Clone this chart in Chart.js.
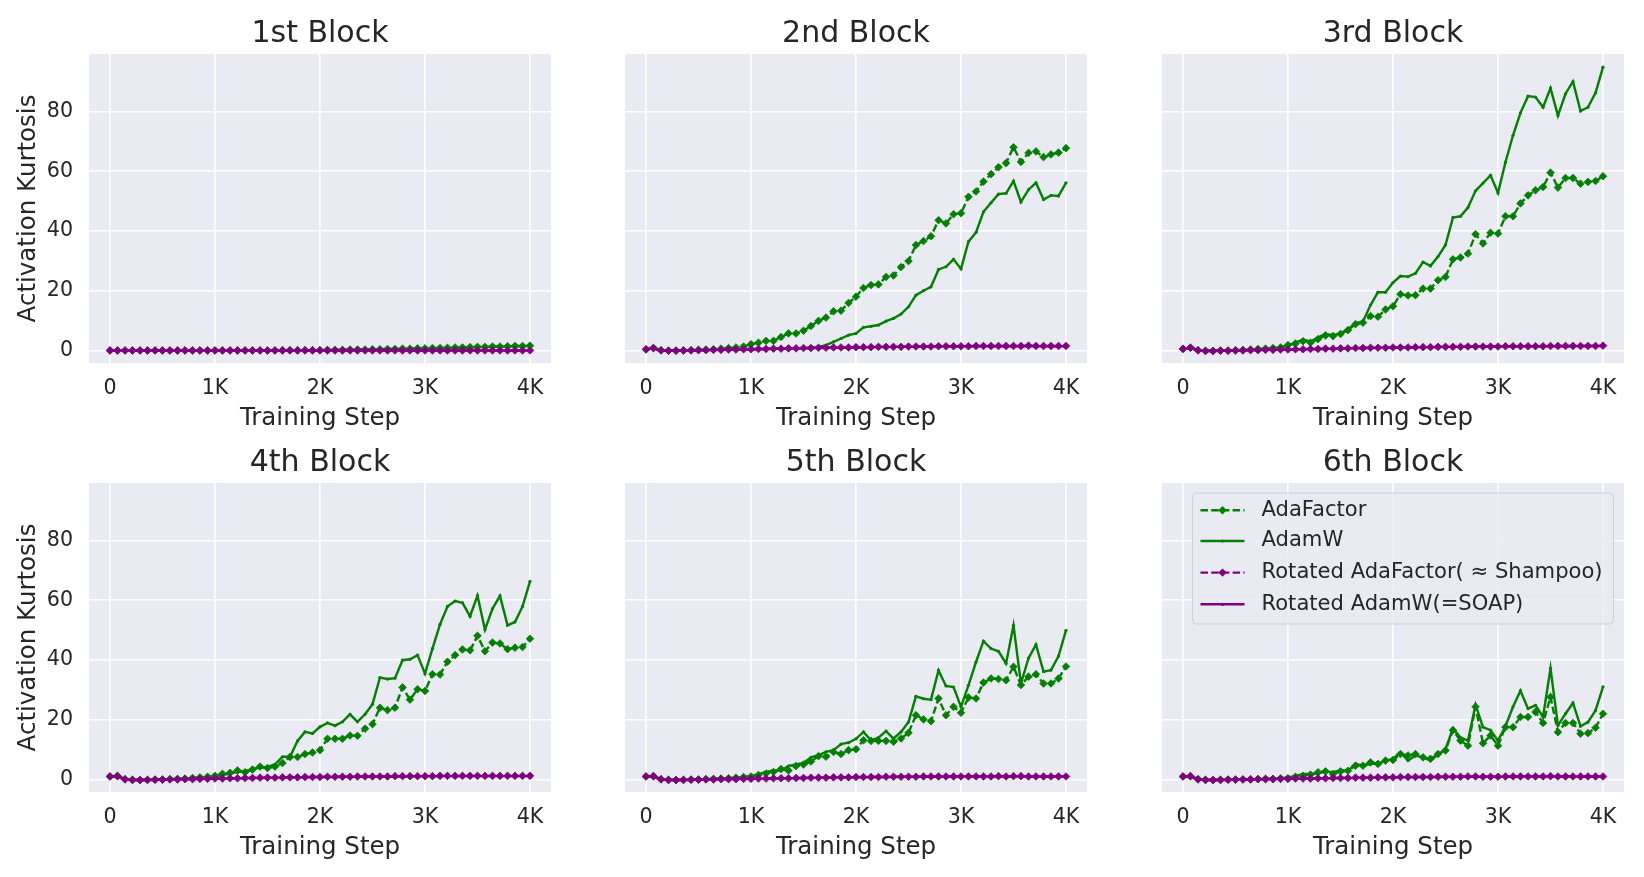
<!DOCTYPE html>
<html>
<head>
<meta charset="utf-8">
<script src="https://cdn.jsdelivr.net/npm/chart.js@4.4.1/dist/chart.umd.min.js"></script>
<style>
html, body { margin: 0; padding: 0; background: #fff; }
body { width: 1644px; height: 877px; position: relative; overflow: hidden; }
canvas { position: absolute; }
</style>
</head>
<body>
<script>
// training steps (57 logged points, 0 .. 4K)
var steps = [0, 71, 143, 214, 286, 357, 429, 500, 571, 643, 714, 786, 857, 929,
  1000, 1071, 1143, 1214, 1286, 1357, 1429, 1500, 1571, 1643, 1714, 1786, 1857, 1929,
  2000, 2071, 2143, 2214, 2286, 2357, 2429, 2500, 2571, 2643, 2714, 2786, 2857, 2929,
  3000, 3071, 3143, 3214, 3286, 3357, 3429, 3500, 3571, 3643, 3714, 3786, 3857, 3929, 4000];
var xTickVals = [0, 1000, 2000, 3000, 4000];
var xTickText = ['0', '1K', '2K', '3K', '4K'];
var yTickVals = [0, 20, 40, 60, 80];
var blockTitles = ['1st Block', '2nd Block', '3rd Block', '4th Block', '5th Block', '6th Block'];
var seriesNames = ['AdaFactor', 'AdamW', 'Rotated AdaFactor( \u2248 Shampoo)', 'Rotated AdamW(=SOAP)'];

// 1st block
var b1AdaFactor = [0.0,0.0,0.0,0.0,0.0,0.0,0.0,0.0,0.0,0.0,0.0,0.0,0.0,0.0,
  0.0,0.0,0.0,0.0,0.0,0.0,0.0,0.0,0.0,0.1,0.1,0.1,0.1,0.1,
  0.1,0.2,0.2,0.2,0.3,0.3,0.3,0.4,0.4,0.5,0.5,0.6,0.6,0.7,0.7,0.8,0.8,0.9,1.0,1.0,1.1,1.2,1.2,1.3,1.3,1.4,1.5,1.5,1.6];
var b1AdamW = [0.0,0.0,0.0,0.0,0.0,0.0,0.0,0.0,0.0,0.0,0.0,0.0,0.0,0.0,
  0.0,0.0,0.0,0.0,0.0,0.0,0.0,0.0,0.0,0.0,0.1,0.1,0.1,0.1,
  0.1,0.1,0.2,0.2,0.2,0.3,0.3,0.3,0.4,0.4,0.5,0.5,0.6,0.6,0.7,0.7,0.8,0.8,0.9,0.9,1.0,1.1,1.1,1.2,1.2,1.3,1.4,1.4,1.5];
var b1RotAdaFactor = [0.0,0.0,0.0,0.0,0.0,0.0,0.0,0.0,0.0,0.0,0.0,0.0,0.0,0.0,
  0.0,0.0,0.0,0.0,0.0,0.0,0.0,0.0,0.0,0.0,0.0,0.0,0.0,0.0,
  0.0,0.0,0.0,0.0,0.0,0.0,0.0,0.0,0.0,0.0,0.0,0.0,0.0,0.0,0.0,0.0,0.0,0.0,0.0,0.0,0.0,0.0,0.0,0.0,0.0,0.0,0.0,0.0,0.0];
var b1RotAdamW = [0.0,0.0,0.0,0.0,0.0,0.0,0.0,0.0,0.0,0.0,0.0,0.0,0.0,0.0,
  0.0,0.0,0.0,0.0,0.0,0.0,0.0,0.0,0.0,0.0,0.0,0.0,0.0,0.0,
  0.0,0.0,0.0,0.0,0.0,0.0,0.0,0.0,0.0,0.0,0.0,0.0,0.0,0.0,0.0,0.0,0.0,0.0,0.0,0.0,0.0,0.0,0.0,0.0,0.0,0.0,0.0,0.0,0.0];

// 2nd block
var b2AdaFactor = [0.3,0.8,0.1,-0.1,0.0,0.0,0.1,0.2,0.3,0.4,0.6,0.8,1.0,
  1.3,2.1,2.6,3.2,3.2,4.5,5.7,5.7,6.6,8.2,
  9.9,11.0,13.1,13.3,15.9,18.0,20.9,21.9,22.1,24.6,
  25.1,27.9,29.9,35.3,36.6,38.2,43.6,42.5,45.6,45.9,
  51.4,53.2,56.5,59.0,61.3,62.7,68.0,63.1,66.1,66.6,
  64.7,65.6,66.2,67.7];
var b2AdamW = [0.3,0.7,0.1,-0.1,0.0,0.0,0.0,0.1,0.1,0.2,
  0.2,0.3,0.3,0.4,0.4,0.5,0.5,0.6,0.6,0.7,
  0.7,0.8,0.9,
  1.2,1.8,2.9,4.0,5.1,5.7,7.7,8.1,8.5,9.8,
  10.7,12.2,14.6,18.5,20.0,21.3,27.1,28.0,30.5,27.3,
  36.4,39.5,46.4,49.4,52.3,52.6,56.7,49.7,53.8,56.1,
  50.5,51.9,51.7,56.1];
var b2RotAdaFactor = [0.4,0.8,0.0,-0.1,-0.1, 0.0,0.0,0.1,0.1,0.2,0.2,0.3,0.3,0.4,
  0.4,0.5,0.5,0.6,0.6,0.7,0.7,0.8,0.8,0.9,
  0.9,1.0,1.0,1.0,1.1,1.1,1.1,1.2,1.2,1.2,
  1.2,1.3,1.3,1.3,1.3,1.4,1.4,1.4,1.4,1.4,
  1.5,1.5,1.5,1.5,1.5,1.5,1.5,1.6,1.5,1.5,1.5,1.5,1.5];
var b2RotAdamW = [0.3,0.7,0.0,-0.1,-0.1, 0.0,0.0,0.0,0.1,0.1,0.2,0.2,0.3,0.3,
  0.4,0.4,0.5,0.5,0.6,0.6,0.7,0.7,0.8,0.8,
  0.9,0.9,0.9,1.0,1.0,1.0,1.1,1.1,1.1,1.2,
  1.2,1.2,1.2,1.3,1.3,1.3,1.3,1.3,1.4,1.4,
  1.4,1.4,1.4,1.4,1.4,1.4,1.5,1.4,1.4,1.4,1.4,1.4,1.4];

// 3rd block
var b3AdaFactor = [0.6,0.9,0.1,-0.1,-0.1,0.0,0.0,0.1,0.2,0.3,0.5,0.6,0.8,
  1.0,1.8,2.3,3.1,2.6,3.8,5.0,4.8,5.5,6.8,
  8.8,9.3,11.5,11.3,13.7,14.8,18.8,18.4,18.5,20.7,
  20.7,23.5,24.6,30.5,31.1,32.4,38.9,35.8,39.4,39.1,
  44.9,44.9,49.2,51.9,53.6,54.7,59.5,54.5,57.7,57.7,
  55.8,56.4,56.7,58.3];
var b3AdamW = [0.6,0.9,0.1,-0.1,-0.1,0.0,0.0,0.1,0.2,0.3,0.4,0.6,0.8,
  1.0,1.5,2.7,3.6,3.0,4.3,5.6,5.0,5.8,7.1,
  9.1,9.7,15.2,19.5,19.5,22.7,24.9,24.7,25.8,29.6,
  28.3,31.4,35.3,44.5,44.9,47.8,53.4,56.0,58.6,52.7,
  63.0,72.0,79.5,85.1,84.8,81.4,87.8,78.6,85.9,90.0,
  80.1,81.4,86.2,94.8];
var b3RotAdaFactor = [0.5,0.9,0.0,-0.2,-0.2, -0.1,-0.1,0.0,0.0,0.1,0.1,0.2,0.2,0.3,
  0.3,0.4,0.4,0.5,0.5,0.6,0.6,0.7,0.7,0.8,
  0.8,0.9,0.9,0.9,1.0,1.0,1.0,1.1,1.1,1.1,
  1.2,1.2,1.2,1.2,1.3,1.3,1.3,1.3,1.3,1.4,
  1.4,1.4,1.4,1.4,1.4,1.5,1.5,1.5,1.5,1.5,1.5,1.5,1.6];
var b3RotAdamW = [0.5,0.8,0.0,-0.2,-0.2, -0.1,-0.1,0.0,0.0,0.0,0.1,0.1,0.2,0.2,
  0.3,0.3,0.4,0.4,0.5,0.5,0.6,0.6,0.7,0.7,
  0.8,0.8,0.9,0.9,0.9,1.0,1.0,1.0,1.1,1.1,
  1.1,1.2,1.2,1.2,1.2,1.3,1.3,1.3,1.3,1.3,
  1.4,1.4,1.4,1.4,1.4,1.4,1.4,1.5,1.4,1.5,1.5,1.5,1.5];

// 4th block
var b4AdaFactor = [1.0,1.2,0.1,-0.1,-0.2,-0.1,0.0,0.0,0.1,0.2,0.3,0.5,0.7,0.9,
  1.2,1.9,2.2,3.0,2.4,3.3,4.3,3.8,4.3,5.5,
  7.5,7.5,8.5,9.0,9.8,13.6,13.6,13.6,14.7,14.6,
  17.0,18.5,24.0,23.2,24.0,30.8,26.7,30.2,29.6,35.2,
  35.1,39.4,41.6,43.5,43.2,48.1,42.9,45.8,45.5,43.6,
  44.1,44.3,47.1];
var b4AdamW = [1.0,1.1,0.1,-0.1,-0.2,-0.1,0.0,0.0,0.1,0.2,0.3,0.4,0.6,0.8,
  1.0,1.5,2.0,2.5,2.8,3.5,4.0,4.2,5.0,7.6,
  7.6,12.9,15.9,15.4,17.6,18.9,18.0,19.3,21.8,19.3,
  21.8,25.2,34.1,33.6,33.9,39.9,40.2,41.6,35.4,43.8,
  51.9,57.9,59.7,59.1,54.6,61.5,50.1,57.2,61.4,51.6,
  52.7,57.9,66.3];
var b4RotAdaFactor = [1.0,1.1,0.0,-0.2,-0.2, -0.2,-0.1,-0.1,0.0,0.0,0.1,0.1,0.2,0.2,
  0.3,0.3,0.4,0.4,0.5,0.5,0.6,0.6,0.6,0.7,
  0.7,0.7,0.8,0.8,0.8,0.9,0.9,0.9,0.9,1.0,
  1.0,1.0,1.0,1.0,1.1,1.1,1.1,1.1,1.1,1.1,
  1.2,1.2,1.2,1.2,1.2,1.2,1.2,1.2,1.2,1.2,1.2,1.2,1.2];
var b4RotAdamW = [1.0,1.0,0.0,-0.2,-0.2, -0.2,-0.2,-0.1,-0.1,0.0,0.0,0.1,0.1,0.2,
  0.2,0.3,0.3,0.4,0.4,0.5,0.5,0.5,0.6,0.6,
  0.7,0.7,0.7,0.8,0.8,0.8,0.8,0.9,0.9,0.9,
  0.9,1.0,1.0,1.0,1.0,1.0,1.0,1.1,1.1,1.1,
  1.1,1.1,1.1,1.1,1.1,1.1,1.2,1.1,1.1,1.1,1.1,1.1,1.1];

// 5th block
var b5AdaFactor = [1.0,1.1,0.1,-0.1,-0.2,-0.1,0.0,0.0,0.1,0.2,0.3,0.4,0.6,0.8,
  1.0,1.5,2.0,2.5,3.5,3.0,4.5,5.0,6.0,7.8,
  7.6,9.2,8.5,9.8,10.1,13.1,12.9,12.9,12.9,12.6,
  13.7,15.6,21.5,20.1,19.5,27.1,21.5,24.3,22.3,27.4,
  27.1,32.4,33.8,33.6,33.2,37.7,31.6,34.4,35.2,32.1,
  32.1,33.8,37.8];
var b5AdamW = [1.0,1.0,0.1,-0.1,-0.2,-0.1,0.0,0.0,0.1,0.2,0.3,0.4,0.6,0.8,
  1.0,1.8,2.5,3.0,3.0,4.5,5.0,5.5,7.4,8.1,
  9.2,9.8,11.8,12.3,13.6,15.9,13.1,14.0,16.2,13.7,
  15.9,19.2,27.8,27.0,26.7,36.5,31.3,30.9,24.3,31.5,
  39.3,46.3,43.8,42.9,38.8,51.6,32.1,40.6,45.1,36.1,
  36.6,41.3,49.9];
var b5RotAdaFactor = [1.0,1.1,0.0,-0.2,-0.2, -0.2,-0.1,-0.1,0.0,0.0,0.1,0.1,0.1,0.2,
  0.2,0.3,0.3,0.4,0.4,0.4,0.5,0.5,0.6,0.6,
  0.6,0.7,0.7,0.7,0.8,0.8,0.8,0.8,0.9,0.9,
  0.9,0.9,0.9,1.0,1.0,1.0,1.0,1.0,1.0,1.0,
  1.0,1.0,1.0,1.1,1.0,1.1,1.1,1.0,1.0,1.0,1.0,1.0,1.0];
var b5RotAdamW = [1.0,1.0,0.0,-0.2,-0.2, -0.2,-0.2,-0.1,-0.1,0.0,0.0,0.1,0.1,0.1,
  0.2,0.2,0.3,0.3,0.4,0.4,0.4,0.5,0.5,0.6,
  0.6,0.6,0.7,0.7,0.7,0.7,0.8,0.8,0.8,0.8,
  0.9,0.9,0.9,0.9,0.9,0.9,1.0,1.0,1.0,1.0,
  1.0,1.0,1.0,1.0,1.0,1.0,1.0,1.0,1.0,1.0,1.0,1.0,1.0];

// 6th block
var b6AdaFactor = [1.0,1.1,0.1,-0.1,-0.2,-0.1,0.0,0.0,0.0,0.1,0.1,0.2,0.2,0.3,
  0.4,0.9,1.2,1.6,2.4,2.7,1.8,2.7,2.9,4.6,
  4.6,5.7,5.2,6.3,6.5,8.5,8.0,8.5,7.4,6.9,
  8.5,9.7,16.5,13.0,11.3,24.3,12.1,14.7,11.3,17.5,
  17.5,20.9,20.9,22.6,18.9,27.6,15.8,18.9,18.9,15.3,
  15.5,17.3,22.0];
var b6AdamW = [1.0,1.0,0.1,-0.1,-0.2,-0.1,0.0,0.0,0.0,0.1,0.1,0.2,0.3,0.4,
  0.7,1.2,1.8,1.8,2.0,2.7,2.4,3.1,2.9,5.2,
  4.6,5.2,5.2,6.3,6.9,9.1,6.3,8.0,7.4,6.3,
  8.3,10.2,17.0,14.0,13.0,25.0,17.5,16.5,13.0,17.8,
  24.3,29.7,23.7,24.8,20.9,37.2,18.1,22.0,25.6,17.8,
  19.2,23.1,31.0];
var b6RotAdaFactor = [1.0,1.1,0.0,-0.2,-0.2, -0.2,-0.1,-0.1,0.0,0.0,0.1,0.1,0.1,0.2,
  0.2,0.3,0.3,0.3,0.4,0.4,0.5,0.5,0.5,0.6,
  0.6,0.6,0.7,0.7,0.7,0.8,0.8,0.8,0.8,0.8,
  0.9,0.9,0.9,0.9,1.0,1.0,0.9,0.9,0.9,1.0,
  1.0,1.0,1.0,1.0,1.0,1.1,1.0,1.0,1.0,1.0,1.0,1.0,1.0];
var b6RotAdamW = [1.0,1.0,0.0,-0.2,-0.2, -0.2,-0.2,-0.1,-0.1,0.0,0.0,0.0,0.1,0.1,
  0.2,0.2,0.3,0.3,0.3,0.4,0.4,0.5,0.5,0.5,
  0.6,0.6,0.6,0.7,0.7,0.7,0.7,0.8,0.8,0.8,
  0.8,0.8,0.9,0.9,0.9,0.9,0.9,0.9,0.9,0.9,
  0.9,1.0,1.0,1.0,1.0,1.0,1.0,1.0,1.0,1.0,1.0,1.0,1.0];

var blocks = [
  [b1AdaFactor, b1AdamW, b1RotAdaFactor, b1RotAdamW],
  [b2AdaFactor, b2AdamW, b2RotAdaFactor, b2RotAdamW],
  [b3AdaFactor, b3AdamW, b3RotAdaFactor, b3RotAdamW],
  [b4AdaFactor, b4AdamW, b4RotAdaFactor, b4RotAdamW],
  [b5AdaFactor, b5AdamW, b5RotAdaFactor, b5RotAdamW],
  [b6AdaFactor, b6AdamW, b6RotAdaFactor, b6RotAdamW]
];

// layout (pixels)
var green = '#008000', purple = '#800080', ink = '#262626';
var colLeft = [89, 625, 1162];
var rowTop = [54, 483];
var plotW = 462, plotH = 309;
var axisW = [80, 20, 20];
var titleH = 54, xAxisH = 75, padR = 15;

Chart.defaults.font.family = 'DejaVu Sans';
Chart.defaults.color = ink;

function pts(arr) {
  return steps.map(function (s, i) { return { x: s, y: arr[i] }; });
}

var bgPlugin = {
  id: 'plotBg',
  beforeDraw: function (chart) {
    var a = chart.chartArea, ctx = chart.ctx;
    ctx.save();
    ctx.fillStyle = '#EAEAF2';
    ctx.fillRect(a.left, a.top, a.right - a.left, a.bottom - a.top);
    ctx.restore();
  }
};

var legendPlugin = {
  id: 'boxLegend',
  afterDraw: function (chart) {
    var a = chart.chartArea, ctx = chart.ctx;
    var x0 = a.left + 30.5, y0 = a.top + 10, w = 421, h = 131, r = 4;
    ctx.save();
    ctx.beginPath();
    ctx.moveTo(x0 + r, y0);
    ctx.arcTo(x0 + w, y0, x0 + w, y0 + h, r);
    ctx.arcTo(x0 + w, y0 + h, x0, y0 + h, r);
    ctx.arcTo(x0, y0 + h, x0, y0, r);
    ctx.arcTo(x0, y0, x0 + w, y0, r);
    ctx.closePath();
    ctx.fillStyle = 'rgba(234,234,242,0.8)';
    ctx.fill();
    ctx.strokeStyle = '#cfcfd6';
    ctx.lineWidth = 1;
    ctx.stroke();
    var rows = [27.3, 58, 89.6, 121.3];
    chart.data.datasets.forEach(function (ds, k) {
      var yy = a.top + rows[k];
      var xa = a.left + 38.5, xb = a.left + 82.5, xm = (xa + xb) / 2;
      ctx.strokeStyle = ds.borderColor;
      ctx.lineWidth = ds.borderWidth;
      ctx.setLineDash(ds.borderDash || []);
      ctx.beginPath();
      ctx.moveTo(xa, yy);
      ctx.lineTo(xb, yy);
      ctx.stroke();
      ctx.setLineDash([]);
      ctx.fillStyle = ds.borderColor;
      ctx.beginPath();
      if (ds.pointStyle === 'rectRot') {
        var pr = ds.pointRadius + 0.4;
        ctx.moveTo(xm - pr, yy);
        ctx.lineTo(xm, yy - pr);
        ctx.lineTo(xm + pr, yy);
        ctx.lineTo(xm, yy + pr);
        ctx.closePath();
      } else {
        ctx.arc(xm, yy, ds.pointRadius, 0, Math.PI * 2);
      }
      ctx.fill();
      ctx.fillStyle = ink;
      ctx.font = '21.1px "DejaVu Sans"';
      ctx.textBaseline = 'middle';
      ctx.textAlign = 'left';
      ctx.fillText(ds.label, a.left + 99.5, yy);
    });
    ctx.restore();
  }
};

function makeSets(series) {
  var colors = [green, green, purple, purple];
  return series.map(function (arr, k) {
    var dashed = (k === 0 || k === 2);
    return {
      label: seriesNames[k],
      data: pts(arr),
      borderColor: colors[k],
      backgroundColor: colors[k],
      borderWidth: 2.4,
      borderDash: dashed ? [7.5, 3.2] : [],
      pointStyle: dashed ? 'rectRot' : 'circle',
      pointRadius: dashed ? 3.8 : 1.6,
      pointBorderWidth: dashed ? 0.8 : 0,
      pointBackgroundColor: colors[k],
      pointBorderColor: colors[k],
      tension: 0,
      order: 4 - k
    };
  });
}

blocks.forEach(function (series, b) {
  var col = b % 3, row = Math.floor(b / 3);
  var cv = document.createElement('canvas');
  var cw = axisW[col] + plotW + padR, ch = titleH + plotH + xAxisH;
  cv.width = cw; cv.height = ch;
  cv.style.width = cw + 'px'; cv.style.height = ch + 'px';
  cv.style.left = (colLeft[col] - axisW[col]) + 'px';
  cv.style.top = (rowTop[row] - titleH) + 'px';
  document.body.appendChild(cv);
  var first = col === 0;

  new Chart(cv.getContext('2d'), {
    type: 'line',
    data: { datasets: makeSets(series) },
    options: {
      responsive: false,
      animation: false,
      events: [],
      layout: { padding: { left: 0, top: 0, bottom: 0, right: padR } },
      plugins: {
        legend: { display: false },
        tooltip: { enabled: false },
        title: {
          display: true, text: blockTitles[b], color: ink, fullSize: false,
          font: { size: 30, weight: 'normal' },
          padding: { top: 16, bottom: 2 }
        }
      },
      scales: {
        x: {
          type: 'linear', min: -200, max: 4200,
          afterBuildTicks: function (s) { s.ticks = xTickVals.map(function (v) { return { value: v }; }); },
          afterFit: function (s) { s.height = xAxisH; },
          grid: { color: '#ffffff', lineWidth: 1.6, drawTicks: false },
          border: { display: false },
          ticks: {
            color: ink, font: { size: 20.6 }, padding: 13, maxRotation: 0, autoSkip: false,
            callback: function (v) { return xTickText[xTickVals.indexOf(v)]; }
          },
          title: {
            display: true, text: 'Training Step', color: ink,
            font: { size: 24.5 }, padding: { top: 0, bottom: 5 }
          }
        },
        y: {
          type: 'linear', min: -4.2, max: 99.2,
          afterBuildTicks: function (s) { s.ticks = yTickVals.map(function (v) { return { value: v }; }); },
          afterFit: function (s) { s.width = axisW[col]; },
          grid: { color: '#ffffff', lineWidth: 1.6, drawTicks: false },
          border: { display: false },
          ticks: { display: first, color: ink, font: { size: 20.6 }, padding: 16 },
          title: {
            display: first, text: 'Activation Kurtosis', color: ink,
            font: { size: 24.5 }, padding: { top: 4.5, bottom: 0 }
          }
        }
      }
    },
    plugins: b === 5 ? [bgPlugin, legendPlugin] : [bgPlugin]
  });
});
</script>
</body>
</html>
